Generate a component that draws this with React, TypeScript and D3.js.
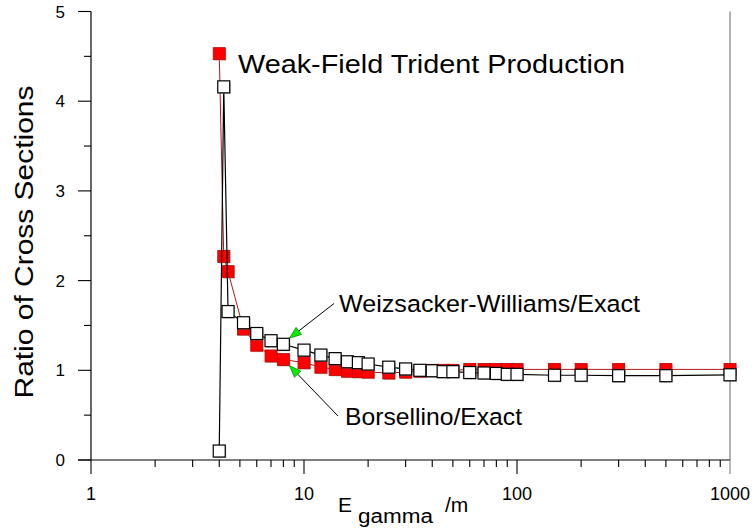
import React from 'react';
import * as d3 from 'd3';

const energies = [4, 4.2, 4.4, 5.2, 6, 7, 8, 10, 12, 14, 16, 18, 20, 25, 30, 35, 40, 45, 50, 60, 70, 80, 90, 100, 150, 200, 300, 500, 1000];
const borsellino = [4.53, 2.27, 2.1, 1.46, 1.28, 1.16, 1.12, 1.085, 1.035, 1.01, 0.99, 0.985, 0.98, 0.97, 0.98, 0.99, 1.0, 1.0, 1.0, 1.01, 1.01, 1.01, 1.01, 1.01, 1.01, 1.01, 1.01, 1.01, 1.01];
const weizsacker = [0.1, 4.16, 1.655, 1.53, 1.41, 1.33, 1.29, 1.225, 1.17, 1.13, 1.095, 1.085, 1.07, 1.035, 1.015, 1.0, 0.995, 0.985, 0.985, 0.975, 0.97, 0.965, 0.955, 0.955, 0.945, 0.945, 0.94, 0.94, 0.95];
const xMajorTicks = [1, 10, 100, 1000];
const xTickLabels = ['1', '10', '100', '1000'];
const yMajorTicks = [0, 1, 2, 3, 4, 5];
const yTickLabels = ['0', '1', '2', '3', '4', '5'];

const FONT = "'Liberation Sans', Arial, sans-serif";

export default function App() {
  const W = 756, H = 528;
  const x = d3.scaleLog().domain([1, 1000]).range([91, 730]);
  const y = d3.scaleLinear().domain([0, 5]).range([460, 11.5]);

  const xMinor: number[] = [];
  [1, 10, 100].forEach(d => { for (let k = 2; k <= 9; k++) xMinor.push(d * k); });
  const yMinor = d3.range(0.5, 5, 1);

  const line = d3.line<[number, number]>().x(d => x(d[0])).y(d => y(d[1]));
  const redPts: [number, number][] = energies.map((e, i) => [e, borsellino[i]]);
  const whitePts: [number, number][] = energies.map((e, i) => [e, weizsacker[i]]);

  const S = 12;
  const half = S / 2;

  // annotation arrows: tips at marker corners of the E=8 points
  const idx8 = energies.indexOf(8);
  const tipUp: [number, number] = [x(energies[idx8]) + half, y(weizsacker[idx8]) - half];
  const tailUp: [number, number] = [334, 303.5];
  const tipDn: [number, number] = [x(energies[idx8]) + half, y(borsellino[idx8]) + half];
  const tailDn: [number, number] = [338, 416];

  const arrow = (tail: [number, number], tip: [number, number]) => {
    const dx = tip[0] - tail[0], dy = tip[1] - tail[1];
    const len = Math.hypot(dx, dy);
    const ux = dx / len, uy = dy / len;
    const L = 12, w = 4.5;
    const bx = tip[0] - ux * L, by = tip[1] - uy * L;
    const p1 = [bx - uy * w, by + ux * w];
    const p2 = [bx + uy * w, by - ux * w];
    return (
      <g>
        <line x1={tail[0]} y1={tail[1]} x2={bx} y2={by} stroke="#000" strokeWidth={1} />
        <polygon points={`${tip[0]},${tip[1]} ${p1[0]},${p1[1]} ${p2[0]},${p2[1]}`} fill="#00ee00" stroke="#006600" strokeWidth={0.6} />
      </g>
    );
  };

  return (
    <svg width={W} height={H} style={{ position: 'absolute', left: 0, top: 0, background: '#fff' }} fontFamily={FONT}>
      <rect x={0} y={0} width={W} height={H} fill="#fff" />
      {/* right border */}
      <line x1={730} y1={y(5)} x2={730} y2={y(0)} stroke="#808080" strokeWidth={1.2} />
      {/* y axis */}
      <line x1={91} y1={y(5)} x2={91} y2={y(0)} stroke="#000" strokeWidth={1.2} />
      {yMajorTicks.map(t => (
        <line key={'ym' + t} x1={78} x2={91} y1={y(t)} y2={y(t)} stroke="#000" strokeWidth={1.1} />
      ))}
      {yMinor.map(t => (
        <line key={'yn' + t} x1={84} x2={91} y1={y(t)} y2={y(t)} stroke="#000" strokeWidth={1.1} />
      ))}
      {yMajorTicks.map((t, i) => (
        <text key={'yl' + t} x={65} y={y(t)} dy="0.36em" textAnchor="end" fontSize={17} fill="#000">{yTickLabels[i]}</text>
      ))}
      {/* x axis */}
      <line x1={78} x2={730} y1={y(0)} y2={y(0)} stroke="#000" strokeWidth={1.2} />
      {xMajorTicks.map(t => (
        <line key={'xm' + t} x1={x(t)} x2={x(t)} y1={y(0)} y2={y(0) + 14} stroke={t === 1000 ? '#808080' : '#000'} strokeWidth={1.1} />
      ))}
      {xMinor.map(t => (
        <line key={'xn' + t} x1={x(t)} x2={x(t)} y1={y(0)} y2={y(0) + 7} stroke="#000" strokeWidth={1.1} />
      ))}
      {xMajorTicks.map((t, i) => (
        <text key={'xl' + t} x={x(t)} y={500} textAnchor="middle" fontSize={18} fill="#000">{xTickLabels[i]}</text>
      ))}

      {/* axis titles */}
      <text transform="translate(33,242) rotate(-90)" textAnchor="middle" fontSize={26} textLength={313} lengthAdjust="spacingAndGlyphs" fill="#000">Ratio of Cross Sections</text>
      <text x={338} y={512} fontSize={21} fill="#000">E</text>
      <text x={358} y={523} fontSize={20} textLength={75} lengthAdjust="spacingAndGlyphs" fill="#000">gamma</text>
      <text x={445} y={512} fontSize={21} fill="#000">/m</text>

      {/* Borsellino series */}
      <path d={line(redPts) || ''} fill="none" stroke="#b01818" strokeWidth={1} />
      {redPts.map((p, i) => (
        <g key={'r' + i}>
          <rect x={x(p[0]) - half + 1} y={y(p[1]) - half + 1} width={S} height={S} fill="#8a8a8a" opacity={0.55} />
          <rect x={x(p[0]) - half} y={y(p[1]) - half} width={S} height={S} fill="#ff0000" stroke="#c00000" strokeWidth={0.8} />
        </g>
      ))}

      {/* Weizsacker-Williams series */}
      <path d={line(whitePts) || ''} fill="none" stroke="#000" strokeWidth={1.2} />
      {whitePts.map((p, i) => (
        <g key={'w' + i}>
          <rect x={x(p[0]) - half + 1} y={y(p[1]) - half + 1} width={S} height={S} fill="#8a8a8a" opacity={0.55} />
          <rect x={x(p[0]) - half} y={y(p[1]) - half} width={S} height={S} fill="#fff" stroke="#000" strokeWidth={1.2} />
        </g>
      ))}

      {/* annotations */}
      <text x={238} y={73} fontSize={26} textLength={387} lengthAdjust="spacingAndGlyphs" fill="#000">Weak-Field Trident Production</text>
      <text x={339} y={312} fontSize={24.5} textLength={301} lengthAdjust="spacingAndGlyphs" fill="#000">Weizsacker-Williams/Exact</text>
      <text x={345} y={425} fontSize={24.5} textLength={177} lengthAdjust="spacingAndGlyphs" fill="#000">Borsellino/Exact</text>
      {arrow(tailUp, tipUp)}
      {arrow(tailDn, tipDn)}
    </svg>
  );
}
